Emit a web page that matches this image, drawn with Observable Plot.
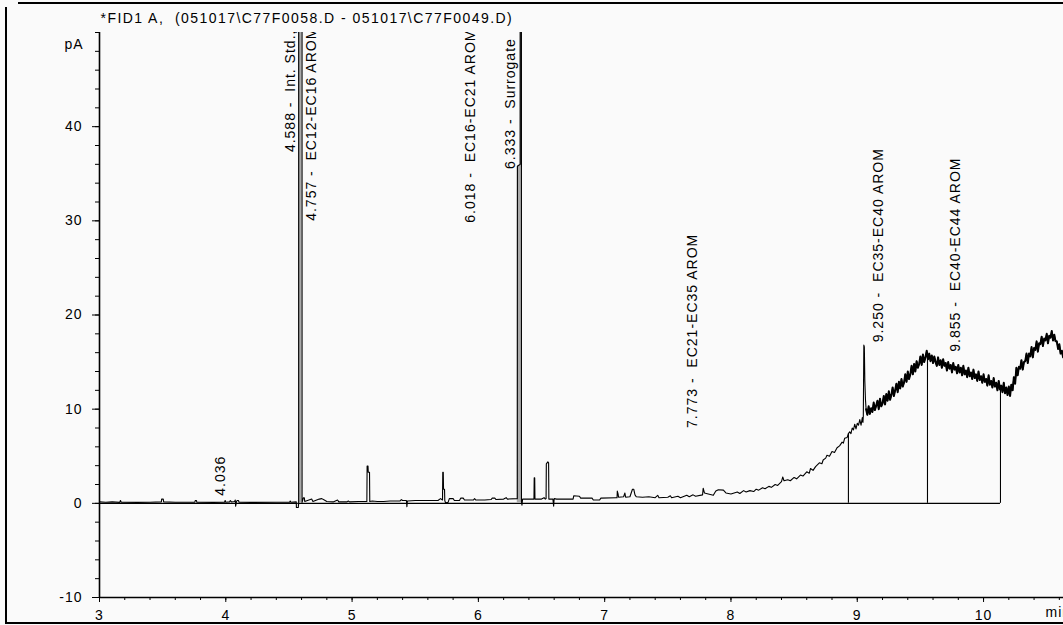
<!DOCTYPE html>
<html><head><meta charset="utf-8">
<script src="https://cdn.jsdelivr.net/npm/d3@7"></script>
<script src="https://cdn.jsdelivr.net/npm/@observablehq/plot@0.6"></script>
<style>
html,body{margin:0;padding:0;background:#fafafa;}
#wrap{position:relative;width:1063px;height:625px;overflow:hidden;background:#fafafa;}
.bl{position:absolute;background:#000;}
svg text{white-space:pre;letter-spacing:1px;}
</style></head><body>
<div id="wrap">
<div class="bl" style="left:5px;top:7px;width:2px;height:617px"></div>
<div class="bl" style="left:18px;top:2px;width:1045px;height:2px"></div>
<div class="bl" style="left:5px;top:622px;width:1058px;height:2px"></div>
<div id="chart" style="position:absolute;left:0;top:0"></div>
</div>
<script>
const title = "*FID1 A,  (051017\\C77F0058.D - 051017\\C77F0049.D)";
const yUnit = "pA";
const xUnit = "min";
const xMajorTicks = [3, 4, 5, 6, 7, 8, 9, 10];
const yMajorTicks = [-10, 0, 10, 20, 30, 40];

// retention time (min), signal (pA)
const traceA = [[3.00,0.15],[3.05,0.12],[3.10,0.15],[3.16,0.10],[3.166,0.3],[3.172,0.12],[3.30,0.10],[3.40,0.12],[3.49,0.15],[3.492,0.45],[3.505,0.45],[3.508,0.15],[3.60,0.12],[3.755,0.12],[3.758,0.3],[3.768,0.3],[3.77,0.12],[3.90,0.10],[3.99,0.12],[3.995,0.3],[4.00,0.12],[4.03,0.15],[4.036,0.3],[4.045,0.15],[4.07,0.2],[4.075,0.35],[4.078,-0.3],[4.085,0.2],[4.09,0.3],[4.10,0.3],[4.105,0.12],[4.20,0.10],[4.40,0.12],[4.505,0.12],[4.51,0.25],[4.515,0.12],[4.558,0.15]];
const traceB = [[4.559,-0.45],[4.574,-0.45],[4.577,0],[4.578,200],[4.603,200],[4.604,0.1],[4.615,0.6],[4.622,0.6],[4.625,0.2],[4.68,0.45],[4.69,0.2],[4.70,0.25],[4.74,0.45],[4.76,0.5],[4.78,0.35],[4.80,0.2],[4.85,0.15],[4.885,0.35],[4.895,0.15],[4.96,0.15],[4.97,0.25],[4.98,0.15],[5.05,0.2],[5.117,0.2],[5.119,3.95],[5.126,3.95],[5.128,3.3],[5.138,3.3],[5.14,0.2],[5.16,0.25],[5.20,0.2]];
const traceC = [[5.25,0.2],[5.30,0.25],[5.38,0.25],[5.39,0.4],[5.40,0.3],[5.43,0.3],[5.434,-0.35],[5.438,0.25],[5.50,0.3],[5.60,0.3],[5.68,0.3],[5.70,0.5],[5.716,0.35],[5.718,3.3],[5.722,3.3],[5.724,1.5],[5.732,1.5],[5.734,0.3],[5.74,0.05],[5.76,0.1],[5.77,0.5],[5.80,0.5],[5.81,0.3],[5.85,0.3],[5.86,0.55],[5.88,0.55],[5.89,0.35],[5.96,0.35],[5.97,0.5],[5.98,0.35],[6.05,0.35],[6.10,0.4],[6.11,0.55],[6.13,0.55],[6.14,0.4],[6.20,0.45],[6.22,0.6],[6.23,0.45],[6.307,0.5]];
const traceD = [[6.308,0.5],[6.309,35.8],[6.331,36.0],[6.333,200],[6.340,200],[6.341,0.2],[6.345,-0.2],[6.35,0.45],[6.40,0.45],[6.44,0.45],[6.442,2.7],[6.446,2.7],[6.448,0.45],[6.50,0.45],[6.52,0.6],[6.53,0.45],[6.536,0.5],[6.538,4.2],[6.55,4.4],[6.556,4.3],[6.558,0.45],[6.59,0.45],[6.596,-0.3],[6.60,0.5],[6.62,0.45],[6.70,0.45],[6.75,0.45],[6.755,0.8],[6.80,0.75],[6.81,0.55],[6.90,0.55],[6.91,0.35],[6.96,0.35],[6.97,0.55],[7.09,0.6]];
const traceE = [[7.098,0.6],[7.10,1.3],[7.106,1.0],[7.11,0.65],[7.15,0.7],[7.16,1.1],[7.166,0.65],[7.20,0.7],[7.22,1.5],[7.23,1.5],[7.24,0.9],[7.25,0.7],[7.30,0.65],[7.35,0.7],[7.40,0.6],[7.42,0.85],[7.43,0.6],[7.50,0.65],[7.52,0.8],[7.53,0.6],[7.58,0.75],[7.60,0.6],[7.65,0.85],[7.67,0.7],[7.70,0.9],[7.72,0.75],[7.775,0.9],[7.78,1.6],[7.79,1.1],[7.82,1.0],[7.86,0.85],[7.88,1.3],[7.90,1.45],[7.94,1.4],[7.96,1.1],[8.00,1.0],[8.05,1.2],[8.07,1.05],[8.10,1.35],[8.12,1.2],[8.15,1.35],[8.18,1.25],[8.20,1.5],[8.22,1.4],[8.25,1.65],[8.27,1.55],[8.30,1.8],[8.32,1.7],[8.35,2.0],[8.37,1.9],[8.40,2.3],[8.41,2.8],[8.42,2.4],[8.45,2.5],[8.47,2.4],[8.50,2.75],[8.52,2.6],[8.55,3.0],[8.57,2.9],[8.60,3.35],[8.62,3.2],[8.63,3.7],[8.65,3.5],[8.67,3.9],[8.70,4.3],[8.72,4.2],[8.73,4.6],[8.75,4.8],[8.76,5.1],[8.78,5.0],[8.80,5.5],[8.82,5.4],[8.84,5.9],[8.86,6.1],[8.88,6.5],[8.89,6.4],[8.90,6.9],[8.92,7.0],[8.93,7.4]];
const traceF = [[8.94,7.6],[8.95,7.4],[8.96,8.0],[8.97,7.8],[8.98,8.4],[8.99,7.9],[9.00,8.5],[9.01,8.3],[9.02,8.9],[9.03,8.3],[9.04,9.1],[9.045,8.6],[9.048,9.3],[9.052,16.8],[9.056,16.6],[9.06,13.0],[9.065,11.0],[9.07,10.0],[9.08,9.4],[9.09,10.3],[9.10,9.5],[9.11,10.1],[9.12,9.7],[9.13,10.7],[9.14,9.9],[9.15,10.4],[9.16,10.9],[9.17,10.0],[9.18,11.1],[9.19,10.3],[9.20,10.6],[9.21,11.4],[9.22,10.5],[9.23,11.6],[9.24,10.9],[9.25,11.9],[9.26,11.0],[9.27,11.5],[9.28,12.3],[9.29,11.4],[9.30,12.0],[9.31,12.7],[9.32,11.8],[9.33,12.9],[9.34,12.2],[9.35,13.2],[9.36,12.4],[9.37,12.8],[9.38,13.7],[9.39,12.9],[9.40,14.0],[9.41,13.2],[9.42,13.7],[9.43,14.6],[9.44,13.7],[9.45,14.8],[9.46,14.0],[9.47,15.1],[9.48,14.4],[9.49,14.8],[9.50,15.6],[9.51,14.7],[9.52,15.8],[9.53,15.0],[9.54,15.5],[9.55,16.2],[9.56,15.3],[9.57,15.9],[9.58,15.1],[9.59,15.7],[9.60,14.9],[9.61,15.6],[9.62,15.0],[9.63,14.6],[9.64,15.5],[9.65,14.7],[9.66,15.2],[9.67,14.4],[9.68,15.3],[9.69,14.6],[9.70,14.9],[9.71,14.1],[9.72,15.0],[9.73,14.3],[9.74,14.7],[9.75,13.9],[9.76,14.9],[9.77,14.2],[9.78,14.5],[9.79,13.8],[9.80,14.7],[9.81,13.9],[9.82,14.4],[9.83,13.6],[9.84,14.6],[9.85,13.7],[9.86,14.1],[9.87,13.4],[9.88,14.4],[9.89,13.5],[9.90,13.9],[9.91,13.2],[9.92,14.2],[9.93,13.3],[9.94,13.7],[9.95,13.0],[9.96,14.0],[9.97,13.1],[9.98,13.5],[9.99,12.8],[10.00,13.7],[10.01,12.9],[10.02,13.2],[10.03,12.5],[10.04,13.6],[10.05,12.6],[10.06,13.0],[10.07,12.3],[10.08,13.3],[10.09,12.4],[10.10,12.8],[10.11,12.0],[10.12,13.0],[10.13,12.1],[10.14,12.5],[10.15,11.8],[10.16,12.8],[10.17,11.7],[10.18,12.3],[10.19,11.5],[10.20,12.4],[10.21,11.4],[10.22,12.6],[10.23,12.0],[10.24,13.4],[10.25,12.7],[10.26,14.4],[10.27,13.6],[10.28,14.5],[10.29,14.3],[10.30,15.2],[10.31,14.2],[10.32,15.0],[10.33,15.1],[10.34,15.9],[10.35,14.9],[10.36,15.9],[10.37,15.6],[10.38,16.6],[10.39,15.5],[10.40,16.5],[10.41,16.3],[10.42,17.2],[10.43,16.1],[10.44,17.0],[10.45,16.9],[10.46,17.7],[10.47,16.7],[10.48,17.5],[10.49,17.3],[10.50,18.0],[10.51,17.0],[10.52,17.8],[10.53,17.6],[10.54,18.3],[10.55,17.3],[10.56,17.9],[10.57,17.2],[10.58,17.2],[10.59,16.4],[10.60,16.9],[10.61,15.9],[10.62,16.2],[10.63,15.5]];

// peak / group annotations
const peakRT = [4.036, 4.588, 4.757, 6.018, 6.333, 7.773, 9.250, 9.855];
const peakName = ["", "Int. Std., ...", "EC12-EC16 AROM", "EC16-EC21 AROM", "Surrogate D...", "EC21-EC35 AROM", "EC35-EC40 AROM", "EC40-EC44 AROM"];
const labelBase = [0.8, 37.3, 30.0, 29.8, 35.5, 8.0, 17.1, 16.1];
// integration baseline
const baselineEnd = 10.134;
const dropRT = [8.93, 9.556, 10.134];

const trace = [...traceA, ...traceB, ...traceC, ...traceD, ...traceE, ...traceF].map(([t, v]) => ({t, v}));
const nearest = (time) => trace.reduce((a, b) => Math.abs(b.t - time) < Math.abs(a.t - time) ? b : a).v;
const drops = dropRT.map(t => ({t, top: nearest(t)}));
const labels = peakRT.map((t, i) => ({t, y: labelBase[i], text: t.toFixed(3) + (peakName[i] ? " -  " + peakName[i] : "")}));
const peak1 = trace.filter(d => d.t >= 4.574 && d.t <= 4.604);
const peak2 = trace.filter(d => d.t >= 6.308 && d.t <= 6.341);
const noisy = trace.filter(d => d.t >= 9.07);

const yMinor = d3.range(-10, 50.01, 2);
const xMinor = d3.range(3, 10.64, 0.2);

const chart = Plot.plot({
  width: 1063, height: 625,
  marginLeft: 99, marginRight: 0, marginTop: 32, marginBottom: 28,
  x: {domain: [3, 10.633], label: null},
  y: {domain: [-10, 50], label: null},
  style: {background: "transparent", fontFamily: "'Liberation Sans', Arial, sans-serif", fontSize: "14px", color: "#000", overflow: "visible"},
  marks: [
    Plot.axisY({ticks: yMinor, tickSize: 4, fill: "none", label: null}),
    Plot.axisY({ticks: yMajorTicks, tickSize: 7, tickPadding: 10, tickFormat: d => String(d), label: null}),
    Plot.axisX({ticks: xMinor, tickSize: 3, fill: "none", label: null}),
    Plot.axisX({ticks: xMajorTicks, tickSize: 5, tickPadding: 8, tickFormat: d => String(d), label: null}),
    Plot.ruleX([3], {y1: -10, y2: 50, strokeWidth: 1.6}),
    Plot.ruleY([-10], {strokeWidth: 1.6}),
    Plot.ruleY([0], {x1: 3, x2: baselineEnd, strokeWidth: 1.2}),
    Plot.areaY(peak1, {x: "t", y: "v", fill: "#aaa", clip: true}),
    Plot.areaY(peak2, {x: "t", y: "v", fill: "#aaa", clip: true}),
    Plot.line(trace, {x: "t", y: "v", stroke: "#000", strokeWidth: 1.1, clip: true}),
    Plot.line(noisy, {x: "t", y: "v", stroke: "#000", strokeWidth: 2, clip: true}),
    Plot.ruleX(drops, {x: "t", y1: 0, y2: "top", strokeWidth: 1.1}),
    Plot.text(labels, {x: "t", y: "y", text: "text", rotate: -90, textAnchor: "start", dx: -10, fill: "#000", clip: true}),
    Plot.text([yUnit], {frameAnchor: "top-left", dx: -16, dy: 7, textAnchor: "end", fill: "#000"}),
    Plot.text([xUnit], {frameAnchor: "bottom-right", dx: -18, dy: 19, textAnchor: "start", fill: "#000"}),
    Plot.text([title], {frameAnchor: "top-left", dx: 1, dy: -19, textAnchor: "start", fill: "#000"})
  ]
});
d3.select(chart).selectAll("text").filter(function() { return this.textContent === title; }).style("letter-spacing", "1.45px");
document.getElementById("chart").appendChild(chart);
</script>
</body></html>
